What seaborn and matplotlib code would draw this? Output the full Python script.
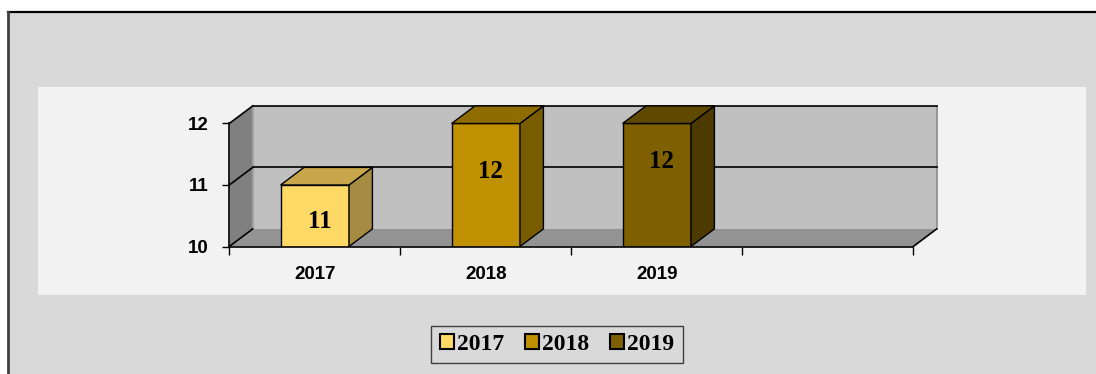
import matplotlib
matplotlib.use("Agg")
import matplotlib.pyplot as plt
from matplotlib.patches import Polygon, Rectangle, Patch
from matplotlib.lines import Line2D
import seaborn as sns
import pandas as pd

# Chart data
years = ["2017", "2018", "2019"]
values = [11, 12, 12]
y_ticks = [10, 11, 12]

# Face colours of the 3-D columns (front / top / side)
front_colors = ["#FFD966", "#BF9000", "#7F6000"]
top_colors = ["#C8A74C", "#8F6C00", "#5F4800"]
side_colors = ["#A68B42", "#7A5C00", "#4D3A00"]

W, H = 1096, 374
fig = plt.figure(figsize=(W / 100, H / 100), dpi=100)
fig.patch.set_facecolor("white")


def fx(px):
    return px / W


def fy(py):
    return 1 - py / H


# Outer chart area with its border on the top and left
fig.patches.append(Rectangle((fx(8), 0), 1.01 - fx(8), fy(11.5),
                             transform=fig.transFigure, facecolor="#D9D9D9",
                             edgecolor="none", zorder=-2))
fig.lines.append(Line2D([fx(8), 1], [fy(11.5), fy(11.5)], transform=fig.transFigure,
                        color="black", lw=1.6, zorder=-1))
fig.lines.append(Line2D([fx(8), fx(8)], [0, fy(11.5)], transform=fig.transFigure,
                        color="#404040", lw=2, zorder=-1))
# Plot area
fig.patches.append(Rectangle((fx(38), fy(295)), fx(1086) - fx(38), fy(87) - fy(295),
                             transform=fig.transFigure, facecolor="#F2F2F2",
                             edgecolor="none", zorder=-1.5))

# Depth of the pseudo 3-D box in data units
DX, DY = 0.137, 0.286
x0, x1 = -0.5, 3.5
ymin, ymax = 10, 12

ax = fig.add_axes([fx(229.3), fy(246.5), fx(936.7) - fx(229.3), fy(105.9) - fy(246.5)])
ax.set_facecolor("none")
ax.set_zorder(2)

# Walls and floor
floor = Polygon([(x0, ymin), (x1, ymin), (x1 + DX, ymin + DY), (x0 + DX, ymin + DY)],
                closed=True, facecolor="#939393", edgecolor="none", zorder=0.5, clip_on=False)
left_wall = Polygon([(x0, ymin), (x0, ymax), (x0 + DX, ymax + DY), (x0 + DX, ymin + DY)],
                    closed=True, facecolor="#808080", edgecolor="none", zorder=0.5, clip_on=False)
back_wall = Polygon([(x0 + DX, ymin + DY), (x1 + DX, ymin + DY), (x1 + DX, ymax + DY),
                     (x0 + DX, ymax + DY)],
                    closed=True, facecolor="#C0C0C0", edgecolor="none", zorder=0.5, clip_on=False)
for p in (floor, left_wall, back_wall):
    ax.add_patch(p)

# Gridlines on the back wall and left wall
for v in y_ticks:
    if v > ymin:
        ax.plot([x0 + DX, x1 + DX], [v + DY, v + DY], color="black", lw=1.2,
                zorder=0.8, clip_on=False)
    ax.plot([x0, x0 + DX], [v, v + DY], color="black", lw=1.2, zorder=0.8, clip_on=False)
ax.plot([x0 + DX, x0 + DX], [ymin + DY, ymax + DY], color="#A6A6A6", lw=1, zorder=0.7,
        clip_on=False)
ax.plot([x1 + DX, x1 + DX], [ymin + DY, ymax + DY], color="#8C8C8C", lw=1.2, zorder=0.7,
        clip_on=False)
ax.plot([x1, x1 + DX], [ymin, ymin + DY], color="black", lw=1.2, zorder=0.8, clip_on=False)

# Front faces of the columns
df = pd.DataFrame({"year": years, "value": values})
before = set(ax.patches)
sns.barplot(data=df, x="year", y="value", hue="year", hue_order=years, order=years,
            palette=front_colors, saturation=1, width=0.4, dodge=False, legend=False,
            edgecolor="black", linewidth=1.0, ax=ax, zorder=3)
bars = sorted([p for p in ax.patches if p not in before], key=lambda p: p.get_x())

label_drop = [37, 48, 38]
for bar, v, tc, sc, drop in zip(bars, values, top_colors, side_colors, label_drop):
    bx0 = bar.get_x()
    bx1 = bx0 + bar.get_width()
    top = Polygon([(bx0, v), (bx1, v), (bx1 + DX, v + DY), (bx0 + DX, v + DY)],
                  closed=True, facecolor=tc, edgecolor="black", lw=1.0, zorder=3,
                  clip_on=False)
    side = Polygon([(bx1, ymin), (bx1, v), (bx1 + DX, v + DY), (bx1 + DX, ymin + DY)],
                   closed=True, facecolor=sc, edgecolor="black", lw=1.0, zorder=3,
                   clip_on=False)
    ax.add_patch(side)
    ax.add_patch(top)
    ax.annotate(str(v), xy=((bx0 + bx1) / 2, v), xytext=(5, -drop),
                textcoords="offset pixels", ha="center", va="center",
                fontfamily="Liberation Serif", fontweight="bold", fontsize=18,
                color="black", zorder=5)

ax.set_xlim(x0, x1 + DX)
ax.set_ylim(ymin, ymax + DY)
ax.set_xlabel("")
ax.set_ylabel("")

# Axes lines and ticks
for s in ("top", "right"):
    ax.spines[s].set_visible(False)
ax.spines["left"].set_bounds(ymin, ymax)
ax.spines["bottom"].set_bounds(x0, x1)
for s in ("left", "bottom"):
    ax.spines[s].set_color("black")
    ax.spines[s].set_linewidth(1.2)
    ax.spines[s].set_zorder(4)

tick_font = dict(fontfamily="Liberation Sans", fontweight="bold", fontsize=13.5)
ax.set_yticks(y_ticks)
ax.set_yticklabels([str(t) for t in y_ticks], **tick_font)
ax.tick_params(axis="y", length=5, width=1, pad=10, direction="out")

ax.set_xticks(range(len(years)))
ax.set_xticklabels(years, **tick_font)
ax.set_xticks([x0 + i for i in range(5)], minor=True)
ax.tick_params(axis="x", which="major", length=0, pad=14)
ax.tick_params(axis="x", which="minor", length=6, width=1, direction="out")

# Legend
handles = [Patch(facecolor=c, edgecolor="black", linewidth=1.5, label=y)
           for c, y in zip(front_colors, years)]
leg = fig.legend(handles=handles, loc="center", bbox_to_anchor=(fx(557), fy(344.5)),
                 ncol=3, frameon=True, fancybox=False, shadow=False,
                 handlelength=0.6, handleheight=0.6, handletextpad=0.15,
                 columnspacing=0.85, borderpad=0.35, borderaxespad=0,
                 prop={"family": "Liberation Serif", "weight": "bold", "size": 17})
leg.get_frame().set_facecolor("#D9D9D9")
leg.get_frame().set_edgecolor("#404040")
leg.get_frame().set_linewidth(1.0)
leg.get_frame().set_alpha(1)
leg.set_zorder(3)

fig.savefig("out.png", dpi=100)
